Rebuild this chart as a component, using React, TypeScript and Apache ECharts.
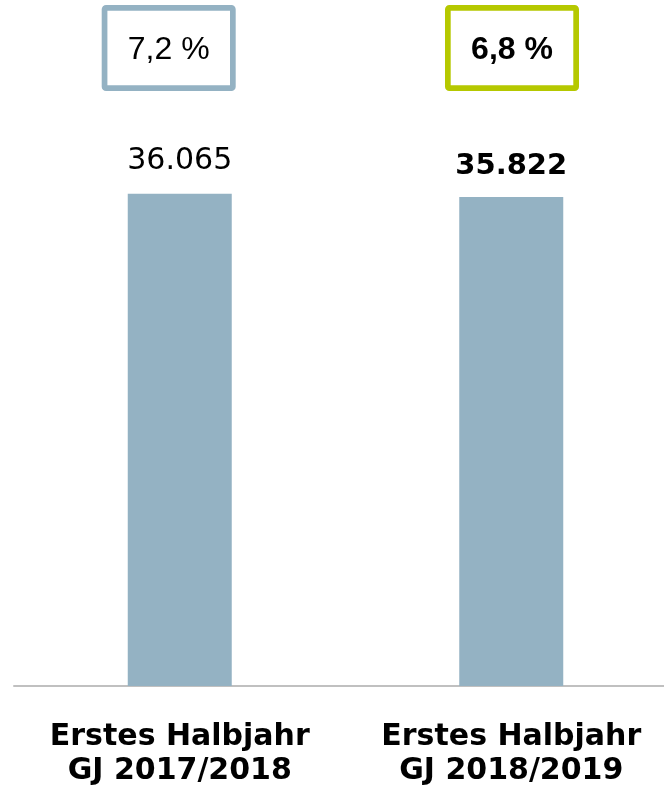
import React, { useEffect, useRef } from "react";
import * as echarts from "echarts";

const categories = ["Erstes Halbjahr\nGJ 2017/2018", "Erstes Halbjahr\nGJ 2018/2019"];
const values = [36065, 35822];
const shareLabels = ["7,2 %", "6,8 %"];
const highlight = [false, true];

const BAR_COLOR = "#94b2c3";
const GREEN = "#b5c800";
const FONT = "'Liberation Sans', Arial, Helvetica, sans-serif";
const WIDE_FONT = "'DejaVu Sans', 'Liberation Sans', sans-serif";

function fmt(v: number): string {
  return String(v).replace(/\B(?=(\d{3})+(?!\d))/g, ".");
}

export default function App() {
  const ref = useRef<HTMLDivElement>(null);
  useEffect(() => {
    const chart = echarts.init(ref.current!, null, { renderer: "svg" });
    const boxes = [
      { cx: 168.7, color: BAR_COLOR },
      { cx: 512, color: GREEN },
    ];
    const graphic: any[] = [];
    boxes.forEach((b, i) => {
      graphic.push({
        type: "rect",
        shape: { x: b.cx - 64.15, y: 7.85, width: 128.3, height: 80.3, r: 1.5 },
        style: { fill: "#ffffff", stroke: b.color, lineWidth: 5.7 },
      });
      graphic.push({
        type: "text",
        x: b.cx,
        y: 48,
        style: {
          text: shareLabels[i],
          fontSize: 32,
          fontWeight: highlight[i] ? "bold" : "normal",
          fontFamily: FONT,
          fill: "#000",
          align: "center",
          verticalAlign: "middle",
        },
      });
    });

    chart.setOption({
      animation: false,
      grid: { left: 14, top: 140, width: 663, height: 546, outerBoundsMode: "none" },
      xAxis: {
        type: "category",
        data: categories,
        axisLine: { show: true, lineStyle: { color: "#c0c0c0", width: 2 } },
        axisTick: { show: false },
        axisLabel: {
          interval: 0,
          margin: 31,
          fontSize: 30,
          fontWeight: "bold",
          lineHeight: 34,
          color: "#000",
          fontFamily: WIDE_FONT,
        },
      },
      yAxis: { type: "value", min: 0, max: 40000, show: false },
      series: [
        {
          type: "bar",
          barWidth: 104,
          itemStyle: { color: BAR_COLOR },
          data: values.map((v, i) => ({
            value: v,
            label: {
              show: true,
              position: "top",
              distance: highlight[i] ? 19 : 20,
              fontSize: highlight[i] ? 29 : 30,
              fontWeight: highlight[i] ? "bold" : "normal",
              color: "#000",
              fontFamily: WIDE_FONT,
              formatter: () => fmt(v),
            },
          })),
        },
      ],
      graphic,
    });
    return () => chart.dispose();
  }, []);
  return (
    <div
      style={{
        position: "fixed",
        left: 0,
        top: 0,
        width: 664,
        height: 785,
        overflow: "hidden",
      }}
    >
      <div ref={ref} style={{ width: 690, height: 785 }} />
    </div>
  );
}
